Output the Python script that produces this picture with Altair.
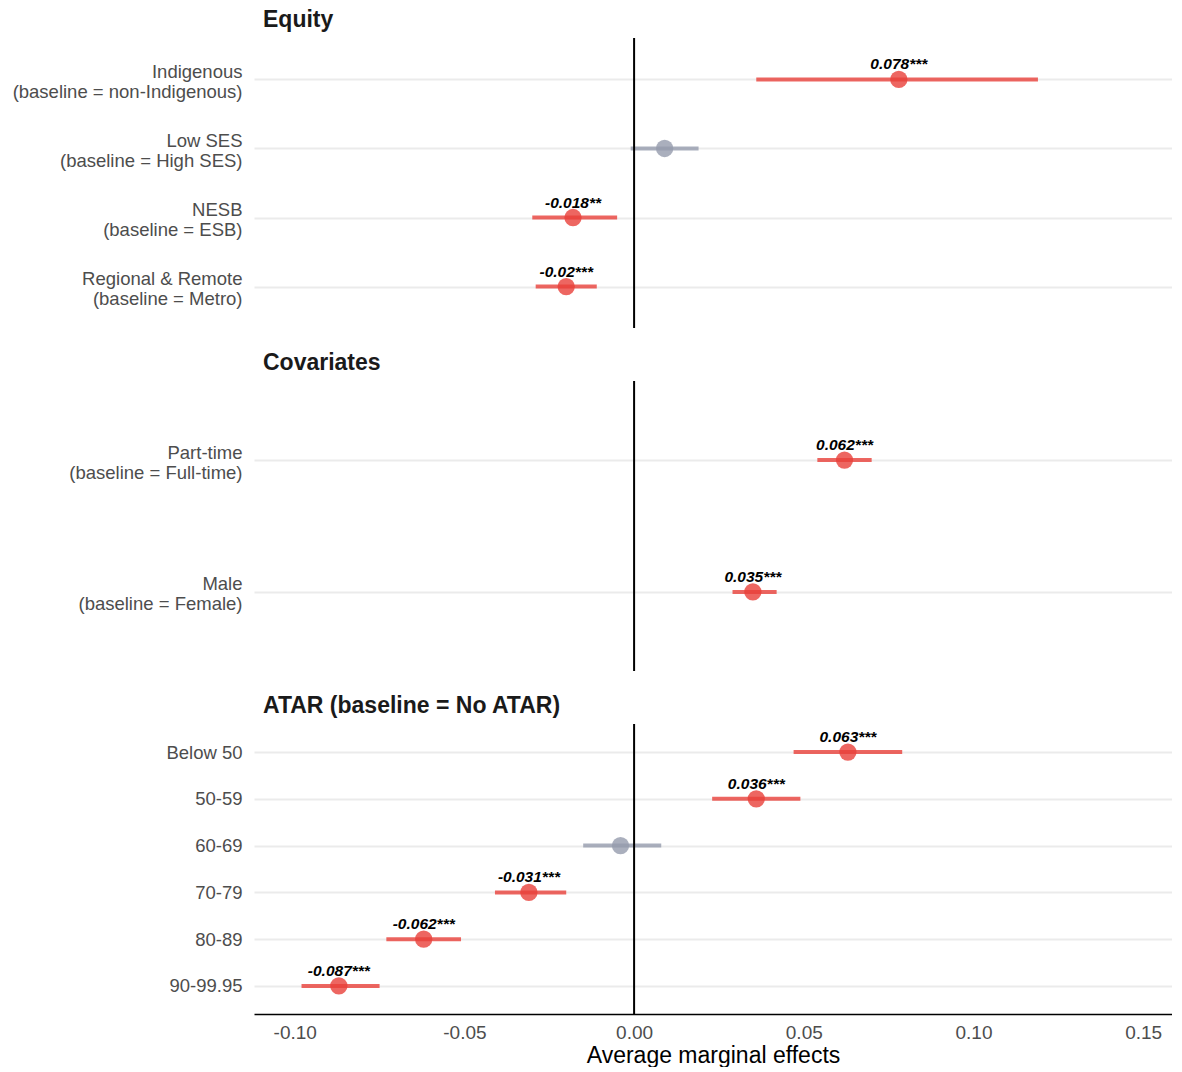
import altair as alt
import pandas as pd

# ---- data -----------------------------------------------------------------
equity_terms = ["Indigenous|(baseline = non-Indigenous)", "Low SES|(baseline = High SES)",
                "NESB|(baseline = ESB)", "Regional & Remote|(baseline = Metro)"]
equity_est = [0.078, 0.009, -0.018, -0.020]
equity_lo = [0.036, -0.001, -0.030, -0.029]
equity_hi = [0.119, 0.019, -0.005, -0.011]
equity_lab = ["0.078***", "", "-0.018**", "-0.02***"]
equity_sig = ["sig", "ns", "sig", "sig"]

cov_terms = ["Part-time|(baseline = Full-time)", "Male|(baseline = Female)"]
cov_est = [0.062, 0.035]
cov_lo = [0.054, 0.029]
cov_hi = [0.070, 0.042]
cov_lab = ["0.062***", "0.035***"]
cov_sig = ["sig", "sig"]

atar_terms = ["Below 50", "50-59", "60-69", "70-79", "80-89", "90-99.95"]
atar_est = [0.063, 0.036, -0.004, -0.031, -0.062, -0.087]
atar_lo = [0.047, 0.023, -0.015, -0.041, -0.073, -0.098]
atar_hi = [0.079, 0.049, 0.008, -0.020, -0.051, -0.075]
atar_lab = ["0.063***", "0.036***", "", "-0.031***", "-0.062***", "-0.087***"]
atar_sig = ["sig", "sig", "ns", "sig", "sig", "sig"]

x_ticks = [-0.10, -0.05, 0.00, 0.05, 0.10, 0.15]
x_domain = [-0.112, 0.1585]

FONT = "Liberation Sans"
RED = "#E8403A"
GREY = "#959BAC"


def panel(title, terms, est, lo, hi, lab, sig, bottom=False, multiline=True):
    df = pd.DataFrame({"term": terms, "est": est, "lo": lo, "hi": hi,
                       "lab": lab, "sig": sig})
    ysc = alt.Scale(type="point", padding=0.6, domain=terms)
    yaxis = alt.Axis(title=None, labelExpr="split(datum.label, '|')",
                     labelFont=FONT, labelFontSize=18.5, labelColor="#4d4d4d",
                     labelLineHeight=20, labelPadding=12, labelLimit=400,
                     labelOffset=-8 if multiline else 0, ticks=False,
                     domain=False, grid=True, gridColor="#ebebeb", gridWidth=2)
    if bottom:
        xaxis = alt.Axis(title="Average marginal effects", values=x_ticks,
                         labelExpr="(datum.value < 0 ? '-' : '') + format(abs(datum.value), '.2f')",
                         labelFont=FONT, labelFontSize=19, labelColor="#4d4d4d",
                         labelPadding=9, ticks=False, grid=False,
                         domainColor="black", domainWidth=1.5,
                         titleFont=FONT, titleFontSize=23, titleFontWeight="normal",
                         titleColor="black", titlePadding=2)
    else:
        xaxis = None
    xsc = alt.Scale(domain=x_domain, nice=False, zero=False)
    colsc = alt.Scale(domain=["sig", "ns"], range=[RED, GREY])

    base = alt.Chart(df)
    zero = alt.Chart(pd.DataFrame({"z": [0.0]})).mark_rule(
        color="black", strokeWidth=2).encode(
        x=alt.X("z:Q", scale=xsc, axis=xaxis))
    bars = base.mark_rule(strokeWidth=4, opacity=0.8).encode(
        y=alt.Y("term:N", scale=ysc, axis=yaxis, sort=terms),
        x=alt.X("lo:Q", scale=xsc, axis=xaxis),
        x2="hi:Q",
        color=alt.Color("sig:N", scale=colsc, legend=None))
    pts = base.mark_circle(size=300, opacity=0.8).encode(
        y=alt.Y("term:N", scale=ysc, axis=yaxis, sort=terms),
        x=alt.X("est:Q", scale=xsc, axis=xaxis),
        color=alt.Color("sig:N", scale=colsc, legend=None))
    txt = base.transform_filter("datum.lab != ''").mark_text(
        font=FONT, fontSize=15.5, fontWeight="bold", fontStyle="italic",
        color="black", baseline="bottom", dy=-7).encode(
        y=alt.Y("term:N", scale=ysc, axis=yaxis, sort=terms),
        x=alt.X("est:Q", scale=xsc, axis=xaxis),
        text="lab:N")
    return alt.layer(bars, zero, pts, txt).properties(
        width=918, height=290,
        title=alt.TitleParams(title, anchor="start", frame="group", font=FONT,
                              fontSize=23, fontWeight="bold", color="#1a1a1a",
                              offset=5, dx=9))


p1 = panel("Equity", equity_terms, equity_est, equity_lo, equity_hi, equity_lab, equity_sig)
p2 = panel("Covariates", cov_terms, cov_est, cov_lo, cov_hi, cov_lab, cov_sig)
p3 = panel("ATAR (baseline = No ATAR)", atar_terms, atar_est, atar_lo, atar_hi,
           atar_lab, atar_sig, bottom=True, multiline=False)

chart = alt.vconcat(p1, p2, p3, spacing=23).resolve_scale(
    y="independent").properties(
    padding={"left": 4, "top": 1, "right": 0, "bottom": 0}
).configure_view(stroke=None)

chart.save("out.html", embed_options={"renderer": "svg", "actions": False})
